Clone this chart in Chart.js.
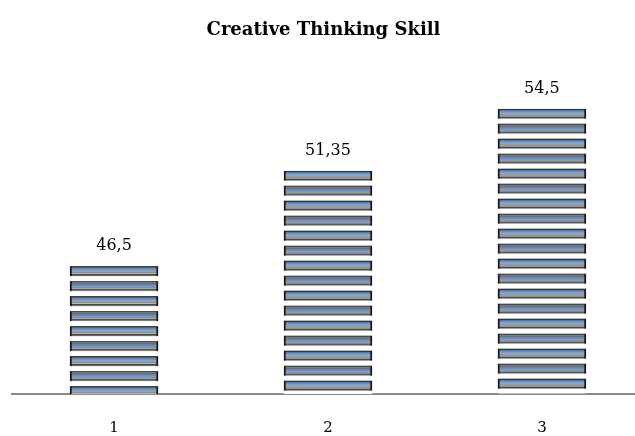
<!DOCTYPE html>
<html lang="en">
<head>
    <meta charset="utf-8">
    <title>Creative Thinking Skill</title>
    <script src="https://cdn.jsdelivr.net/npm/chart.js"></script>
    <style>
        body { margin: 0; background: #fff; }
        #wrap { width: 635px; height: 436px; }
    </style>
</head>
<body>
    <div id="wrap">
        <canvas id="skillChart" width="635" height="436"></canvas>
    </div>
    <script>
        // data
        const categories = ['1', '2', '3'];
        const positions = [1, 2, 3];
        const scores = [46.5, 51.35, 54.5];
        const valueLabels = ['46,5', '51,35', '54,5'];

        // striped fill like the original (blue / gray bands with white gaps)
        function makeTile(rows) {
            const c = document.createElement('canvas');
            c.width = 4;
            c.height = rows.length;
            const g = c.getContext('2d');
            rows.forEach(function (col, i) {
                g.fillStyle = col;
                g.fillRect(0, i, 4, 1);
            });
            return c;
        }
        const W = '#ffffff';
        const fillRows = [
            '#222', '#4a6f9c', '#5b8fd3', '#6e9bd6', '#9aa6b2', '#a0a0a0', '#8c8c8c', '#bdbdbd', '#333', '#777',
            W, W, W, W, W,
            '#333', '#808080', '#6a6a6a', '#5d86bd', '#5b8fd3', '#7f9cc0', '#909090', '#a8a8a8', '#444', '#888',
            W, W, W, W, W
        ];
        const edgeRows = fillRows.map(function (c) { return c === W ? W : '#1a1a1a'; });
        const fillTile = makeTile(fillRows);
        const edgeTile = makeTile(edgeRows);

        function stripe(tile, ctx) {
            const p = ctx.chart.ctx.createPattern(tile, 'repeat');
            const y = ctx.chart.scales.y;
            if (y && ctx.raw) {
                const top = y.getPixelForValue(ctx.raw.y);
                p.setTransform(new DOMMatrix().translate(0, top));
            }
            return p;
        }

        const valueLabelPlugin = {
            id: 'valueLabels',
            afterDatasetsDraw(chart) {
                const g = chart.ctx;
                const meta = chart.getDatasetMeta(0);
                g.save();
                g.font = '16px "DejaVu Serif"';
                g.fillStyle = '#000';
                g.textAlign = 'center';
                g.textBaseline = 'bottom';
                meta.data.forEach(function (bar, i) {
                    g.fillText(valueLabels[i], bar.x, bar.y - 12);
                });
                g.restore();
            }
        };

        const chart = new Chart(document.getElementById('skillChart').getContext('2d'), {
            type: 'bar',
            data: {
                datasets: [{
                    data: positions.map(function (x, i) { return { x: x, y: scores[i] }; }),
                    backgroundColor: function (ctx) { return stripe(fillTile, ctx); },
                    borderColor: function (ctx) { return stripe(edgeTile, ctx); },
                    borderWidth: { left: 2, right: 2, top: 0, bottom: 0 },
                    borderSkipped: false,
                    barThickness: 88
                }]
            },
            options: {
                responsive: false,
                animation: false,
                layout: { padding: { top: 10, left: 12, right: 0, bottom: -18 } },
                scales: {
                    x: {
                        type: 'linear',
                        offset: false,
                        min: 0.523,
                        max: 3.435,
                        afterBuildTicks: function (s) {
                            s.ticks = positions.map(function (p) { return { value: p }; });
                        },
                        ticks: {
                            padding: 17,
                            color: '#000',
                            font: { family: 'DejaVu Serif', size: 15 },
                            callback: function (v) { return categories[positions.indexOf(v)]; }
                        },
                        grid: { display: false },
                        border: { display: true, color: '#8a8a8a', width: 2 }
                    },
                    y: {
                        display: false,
                        min: 40,
                        max: 57.4
                    }
                },
                plugins: {
                    legend: { display: false },
                    tooltip: { enabled: false },
                    title: {
                        display: true,
                        text: 'Creative Thinking Skill',
                        color: '#000',
                        font: { family: 'DejaVu Serif', size: 18, weight: 'bold' },
                        padding: { top: 10, bottom: 10 }
                    }
                }
            },
            plugins: [valueLabelPlugin]
        });
    </script>
</body>
</html>
